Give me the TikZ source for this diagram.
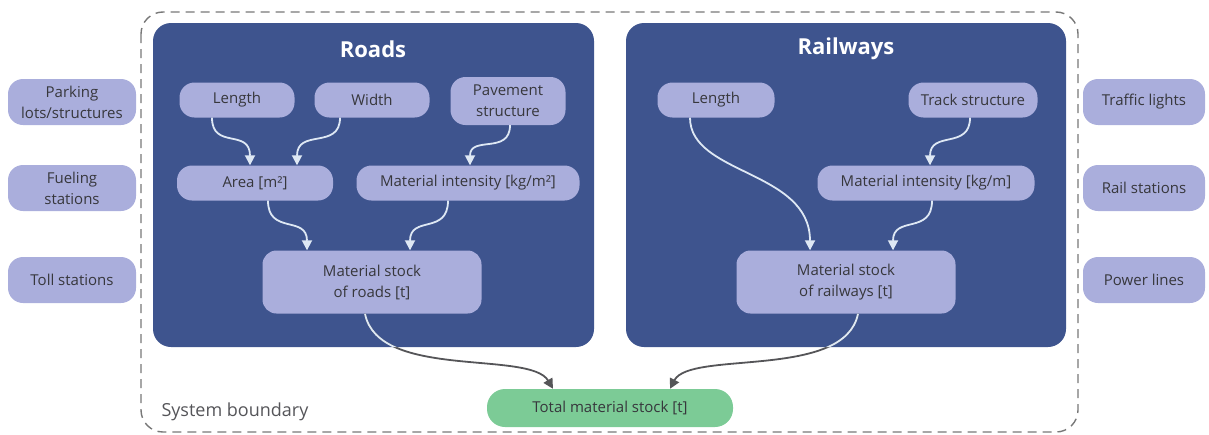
\documentclass[tikz,border=0pt]{standalone}
\usepackage{fontspec}
\setmainfont{Open Sans}
\usetikzlibrary{arrows.meta}
\definecolor{boxblue}{RGB}{62,84,142}
\definecolor{lav}{RGB}{170,174,220}
\definecolor{mint}{RGB}{124,203,150}
\definecolor{txt}{RGB}{55,55,60}
\definecolor{pale}{RGB}{222,232,244}
\definecolor{darkarr}{RGB}{85,85,88}
\definecolor{bnd}{RGB}{120,120,120}
\tikzset{
  group/.style={fill=boxblue, rounded corners=18pt, draw=none},
  pill/.style={fill=lav, rounded corners=15pt, inner sep=0pt, align=center, text=txt, font=\fontsize{15}{21}\selectfont},
  stockbox/.style={pill, rounded corners=14pt, minimum width=219pt, minimum height=63pt},
  side/.style={pill, minimum width=128pt, minimum height=46pt},
  title/.style={text=white, font=\bfseries\fontsize{22}{26}\selectfont},
  inarrow/.style={draw=pale, line width=1.8pt, -{Triangle[width=10pt,length=10pt]}},
  outarrow/.style={draw=darkarr, line width=1.8pt, -{Triangle[width=10pt,length=10pt]}},
}
\begin{document}
\begin{tikzpicture}[x=1pt,y=-1pt]
\useasboundingbox (0,0) rectangle (1209,434);
% system boundary
\draw[bnd, line width=1.4pt, dash pattern=on 9pt off 6pt, rounded corners=22pt] (141,12) rectangle (1078,432);
\node[anchor=west, text=txt!85, font=\fontsize{18}{20}\selectfont] (sb) at (158,412) {System boundary};
% groups
\path[group] (153,23) rectangle (594,347);
\path[group] (626,23) rectangle (1066,347);
\node[title] (troads) at (373,49) {Roads};
\node[title] (trail) at (846,49) {Railways};
% roads nodes
\node[pill, minimum width=115pt, minimum height=35pt] (rlen) at (237,100) {Length};
\node[pill, minimum width=115pt, minimum height=35pt] (rwid) at (372,100) {Width};
\node[pill, minimum width=115pt, minimum height=48pt] (rpav) at (508,101) {Pavement\\structure};
\node[pill, minimum width=156pt, minimum height=35pt] (rarea) at (255,183) {Area [m²]};
\node[pill, minimum width=223pt, minimum height=35pt] (rmi) at (468,183) {Material intensity [kg/m²]};
\node[stockbox] (rstock) at (372,282) {Material stock\\of roads [t]};
% railway nodes
\node[pill, minimum width=117pt, minimum height=35pt] (wlen) at (716,100) {Length};
\node[pill, minimum width=129pt, minimum height=35pt] (wtrk) at (973,100) {Track structure};
\node[pill, minimum width=217pt, minimum height=35pt] (wmi) at (926,183) {Material intensity [kg/m]};
\node[stockbox] (wstock) at (846,282) {Material stock\\of railways [t]};
% total
\node[pill, fill=mint, rounded corners=18pt, minimum width=246pt, minimum height=38pt] (total) at (610,408) {Total material stock [t]};
% side nodes
\node[side] (s1) at (72,102) {Parking\\lots/structures};
\node[side] (s2) at (72,188) {Fueling\\stations};
\node[side] (s3) at (72,280) {Toll stations};
\node[side, minimum width=122pt] (s4) at (1144,102) {Traffic lights};
\node[side, minimum width=122pt] (s5) at (1144,188) {Rail stations};
\node[side, minimum width=122pt] (s6) at (1144,280) {Power lines};
% roads arrows
\draw[inarrow] (rlen.south -| 212,0) .. controls (212,150) and (250,128) .. (rarea.north -| 250,0);
\draw[inarrow] (rwid.south -| 340,0) .. controls (340,150) and (297,128) .. (rarea.north -| 297,0);
\draw[inarrow] (rpav.south -| 510,0) .. controls (510,155) and (470,135) .. (rmi.north -| 470,0);
\draw[inarrow] (rarea.south -| 268,0) .. controls (268,235) and (307,215) .. (rstock.north -| 307,0);
\draw[inarrow] (rmi.south -| 448,0) .. controls (448,235) and (410,215) .. (rstock.north -| 410,0);
% railway arrows
\draw[inarrow] (wlen.south -| 690,0) .. controls (690,175) and (810,170) .. (wstock.north -| 810,0);
\draw[inarrow] (wtrk.south -| 970,0) .. controls (970,150) and (930,130) .. (wmi.north -| 930,0);
\draw[inarrow] (wmi.south -| 932,0) .. controls (932,235) and (893,215) .. (wstock.north -| 893,0);
% outputs
\draw[outarrow] (rstock.south -| 365,0) .. controls (378,380) and (530,350) .. (total.north -| 553,0);
\draw[outarrow] (wstock.south -| 858,0) .. controls (845,380) and (690,350) .. (total.north -| 670,0);
\begin{scope}
\clip (153,23) rectangle (594,347) (626,23) rectangle (1066,347);
\draw[draw=pale, line width=1.8pt] (rstock.south -| 365,0) .. controls (378,380) and (530,350) .. (total.north -| 553,0);
\draw[draw=pale, line width=1.8pt] (wstock.south -| 858,0) .. controls (845,380) and (690,350) .. (total.north -| 670,0);
\end{scope}
\end{tikzpicture}
\end{document}
